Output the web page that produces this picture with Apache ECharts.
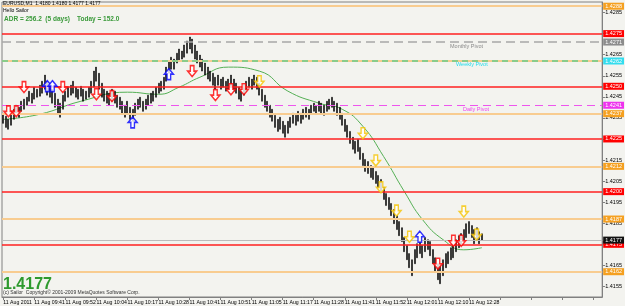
<!DOCTYPE html>
<html><head><meta charset="utf-8">
<script src="https://cdn.jsdelivr.net/npm/echarts@6/dist/echarts.min.js"></script>
<style>html,body{margin:0;padding:0;background:#F2F2EE}#c{width:625px;height:306px}</style>
</head><body><div id="c"></div>
<script>
const symbolName = 'EURUSD,M1';
const headerOHLC = [1.4180, 1.4180, 1.4177, 1.4177];
const adrValue = 256.2;
const adrDays = 5;
const todayRange = 152.0;
const lastPrice = 1.4177;

const timeLabels = ['11 Aug 2011','11 Aug 09:41','11 Aug 09:52','11 Aug 10:04','11 Aug 10:17','11 Aug 10:28','11 Aug 10:41','11 Aug 10:51','11 Aug 11:05','11 Aug 11:17','11 Aug 11:28','11 Aug 11:41','11 Aug 11:52','11 Aug 12:01','11 Aug 12:10','11 Aug 12:28'];

const yTicks = [1.4155,1.4165,1.4175,1.4185,1.4195,1.4205,1.4215,1.4225,1.4235,1.4245,1.4255,1.4265,1.4275,1.4285];

const barHigh = [
1.42372,1.42358,1.42343,1.42367,1.42391,1.42410,1.42400,1.42429,1.42439,1.42448,
1.42477,1.42467,1.42496,1.42486,1.42505,1.42524,1.42553,1.42524,1.42505,1.42486,
1.42467,1.42439,1.42420,1.42458,1.42477,1.42496,1.42505,1.42524,1.42496,1.42486,
1.42500,1.42486,1.42477,1.42496,1.42524,1.42572,1.42591,1.42562,1.42515,1.42486,
1.42477,1.42467,1.42486,1.42477,1.42458,1.42448,1.42429,1.42410,1.42429,1.42400,
1.42391,1.42420,1.42439,1.42448,1.42429,1.42439,1.42458,1.42467,1.42477,1.42496,
1.42515,1.42524,1.42543,1.42591,1.42619,1.42638,1.42629,1.42657,1.42677,1.42667,
1.42696,1.42715,1.42734,1.42724,1.42696,1.42667,1.42648,1.42629,1.42610,1.42591,
1.42572,1.42562,1.42543,1.42553,1.42534,1.42543,1.42524,1.42534,1.42553,1.42534,
1.42515,1.42496,1.42486,1.42505,1.42524,1.42543,1.42534,1.42553,1.42543,1.42515,
1.42486,1.42458,1.42429,1.42410,1.42391,1.42362,1.42343,1.42353,1.42334,1.42315,
1.42334,1.42353,1.42372,1.42362,1.42381,1.42372,1.42391,1.42400,1.42391,1.42410,
1.42420,1.42410,1.42429,1.42420,1.42410,1.42429,1.42439,1.42448,1.42429,1.42420,
1.42400,1.42372,1.42343,1.42315,1.42286,1.42258,1.42239,1.42248,1.42210,1.42182,
1.42153,1.42143,1.42124,1.42115,1.42096,1.42077,1.42058,1.42020,1.41991,1.41972,
1.41944,1.41915,1.41886,1.41858,1.41829,1.41782,1.41744,1.41706,1.41677,1.41725,
1.41753,1.41763,1.41744,1.41782,1.41772,1.41763,1.41725,1.41686,1.41658,1.41648,
1.41677,1.41706,1.41715,1.41734,1.41744,1.41772,1.41791,1.41801,1.41820,1.41848,
1.41858,1.41839,1.41820,1.41829,1.41810,1.41800];

const barLow = [
1.42324,1.42305,1.42296,1.42315,1.42343,1.42362,1.42353,1.42381,1.42391,1.42410,
1.42429,1.42420,1.42439,1.42448,1.42453,1.42467,1.42486,1.42458,1.42448,1.42420,
1.42400,1.42372,1.42353,1.42391,1.42429,1.42448,1.42458,1.42467,1.42448,1.42439,
1.42453,1.42429,1.42439,1.42448,1.42467,1.42496,1.42524,1.42486,1.42448,1.42429,
1.42420,1.42410,1.42429,1.42420,1.42400,1.42391,1.42372,1.42353,1.42372,1.42343,
1.42334,1.42362,1.42391,1.42400,1.42381,1.42391,1.42410,1.42420,1.42429,1.42448,
1.42467,1.42477,1.42486,1.42524,1.42562,1.42581,1.42581,1.42610,1.42619,1.42629,
1.42638,1.42657,1.42677,1.42657,1.42629,1.42610,1.42591,1.42572,1.42553,1.42534,
1.42524,1.42505,1.42486,1.42505,1.42486,1.42496,1.42477,1.42486,1.42496,1.42477,
1.42467,1.42439,1.42429,1.42458,1.42477,1.42496,1.42486,1.42505,1.42486,1.42458,
1.42429,1.42400,1.42381,1.42353,1.42334,1.42305,1.42286,1.42296,1.42277,1.42258,
1.42277,1.42305,1.42324,1.42315,1.42334,1.42324,1.42343,1.42353,1.42343,1.42372,
1.42381,1.42372,1.42381,1.42372,1.42362,1.42381,1.42391,1.42400,1.42381,1.42362,
1.42343,1.42315,1.42286,1.42258,1.42229,1.42201,1.42182,1.42191,1.42153,1.42124,
1.42096,1.42086,1.42067,1.42058,1.42039,1.42020,1.42001,1.41963,1.41934,1.41915,
1.41886,1.41848,1.41820,1.41791,1.41763,1.41715,1.41677,1.41639,1.41601,1.41658,
1.41686,1.41706,1.41686,1.41715,1.41725,1.41696,1.41658,1.41620,1.41582,1.41563,
1.41601,1.41639,1.41658,1.41677,1.41686,1.41715,1.41734,1.41744,1.41763,1.41782,
1.41801,1.41782,1.41753,1.41772,1.41753,1.41770];

const maIdx = [0,14,30,48,60,68,76,87,99,110,122,131,139,147,155,162,170,178,185];
const maVal = [1.42343,1.42367,1.42429,1.42472,1.42462,1.42496,1.42543,1.42591,1.42572,1.42477,1.42420,1.42391,1.42310,1.42167,1.42001,1.41868,1.41772,1.41724,1.41734];

const redArrowIdx = [2,5,8,23,36,42,73,82,88,93,168,174,177];
const redArrowVal = [1.42381,1.42381,1.42496,1.42496,1.42462,1.42453,1.42572,1.42458,1.42486,1.42486,1.41658,1.41767,1.41767];
const blueArrowIdx = [17,19,50,64,161];
const blueArrowVal = [1.42501,1.42501,1.42329,1.42558,1.41786];
const yellowArrowIdx = [99,139,144,146,152,157,178,183];
const yellowArrowVal = [1.42524,1.42277,1.42148,1.42020,1.41910,1.41786,1.41905,1.41796];

const redLevels = [1.4275,1.4250,1.4225,1.4200,1.4175];
const orangeLevels = [1.4288,1.4262,1.4237,1.4212,1.4187,1.4162];
const monthlyPivot = 1.4271;
const weeklyPivot = 1.4262;
const dailyPivot = 1.4241;

const N_CAT = 232;
const cats = Array.from({length: N_CAT}, (_, i) => i);
const candle = barHigh.map((h, i) => [barLow[i], h, barLow[i], h]);
const FF = '"Liberation Sans", Arial, sans-serif';

function boxLabel(bg, show) {
  return { show: show, position: 'end', distance: 1, formatter: p => Number(p.value).toFixed(4),
    backgroundColor: bg, color: '#fff', fontSize: 5.5, fontFamily: FF, padding: [1, 2, 0, 2] };
}
const markData = [];
orangeLevels.forEach(v => markData.push({ yAxis: v, lineStyle: { color: '#F8CC90', width: 2, type: 'solid', opacity: 1 }, label: boxLabel('#F5A020', v !== weeklyPivot) }));
redLevels.forEach(v => markData.push({ yAxis: v, lineStyle: { color: '#FF2020', width: 1.5, type: 'solid', opacity: 1 }, label: boxLabel('#FF0000', true) }));
markData.push({ yAxis: monthlyPivot, lineStyle: { color: '#A8A8A8', width: 1.5, type: [9, 5], opacity: 1 }, label: boxLabel('#8C8C8C', true) });
markData.push({ yAxis: weeklyPivot, lineStyle: { color: '#66CC88', width: 1.5, type: [6, 4], opacity: 1 }, label: boxLabel('#33DDEE', true) });
markData.push({ yAxis: dailyPivot, lineStyle: { color: '#EE55EE', width: 1.2, type: [8, 5], opacity: 1 }, label: boxLabel('#EE33EE', true) });
markData.push({ yAxis: lastPrice, lineStyle: { color: '#BBBBBB', width: 1, type: 'solid', opacity: 1 }, label: boxLabel('#111111', true) });

const downArrow = 'path://M3,0 L7,0 L7,5 L10,5 L5,10 L0,5 L3,5 Z';
const upArrow = 'path://M5,0 L10,5 L7,5 L7,10 L3,10 L3,5 L0,5 Z';
function arrows(idx, val, color, sym) {
  return { type: 'scatter', z: 6, symbol: sym, symbolSize: [9, 11],
    data: idx.map((x, k) => [x, val[k]]),
    itemStyle: { color: '#FFFFFF', borderColor: color, borderWidth: 1.5 }, silent: true };
}

const chart = echarts.init(document.getElementById('c'), null, { renderer: 'canvas' });
chart.setOption({
  animation: false,
  backgroundColor: '#F3F3EF',
  grid: { left: 2, right: 20, top: 2, bottom: 9, show: true, borderColor: '#808080', borderWidth: 1 },
  xAxis: { type: 'category', data: cats, boundaryGap: true,
    axisLine: { show: true, lineStyle: { color: '#808080' } },
    axisTick: { show: true, interval: 11, alignWithLabel: true, length: 3, lineStyle: { color: '#808080' } },
    axisLabel: { interval: 11, align: 'left', fontSize: 5.2, fontFamily: FF, color: '#000', margin: 3,
      formatter: (v, i) => timeLabels[i / 12] || '' },
    splitLine: { show: false } },
  yAxis: { type: 'value', position: 'right', min: 1.4150, max: 1.4290,
    axisLine: { show: true, lineStyle: { color: '#808080' } },
    axisTick: { show: true, length: 3, customValues: yTicks, lineStyle: { color: '#808080' } },
    axisLabel: { customValues: yTicks, formatter: v => v.toFixed(4), fontSize: 5.5, fontFamily: FF, color: '#000', margin: 3 },
    splitLine: { show: false } },
  series: [
    { type: 'line', z: 2, data: maIdx.map((x, k) => [x, maVal[k]]), smooth: 0.5, symbol: 'none',
      lineStyle: { color: '#55B055', width: 1 }, silent: true,
      markLine: { symbol: 'none', silent: true, precision: 5, data: markData } },
    { type: 'candlestick', z: 4, data: candle, barWidth: 1.5, silent: true,
      itemStyle: { color: '#000', color0: '#000', borderColor: '#000', borderColor0: '#000', borderWidth: 0.5 } },
    arrows(redArrowIdx, redArrowVal, '#FF0000', downArrow),
    arrows(blueArrowIdx, blueArrowVal, '#0000FF', upArrow),
    arrows(yellowArrowIdx, yellowArrowVal, '#F5C400', downArrow)
  ],
  graphic: [
    { type: 'text', left: 3, top: 1, z: 10, style: { text: symbolName + '  ' + headerOHLC.map(v => v.toFixed(4)).join(' '), font: '5px ' + FF, fill: '#000' } },
    { type: 'text', left: 3, top: 8, z: 10, style: { text: 'Hello Sailor', font: '5px ' + FF, fill: '#000' } },
    { type: 'text', left: 4, top: 16, z: 10, style: { text: 'ADR = ' + adrValue.toFixed(1) + '  (' + adrDays + ' days)', font: 'bold 6.5px ' + FF, fill: '#3A9A3A' } },
    { type: 'text', left: 77, top: 16, z: 10, style: { text: 'Today = ' + todayRange.toFixed(1), font: 'bold 6.5px ' + FF, fill: '#3A9A3A' } },
    { type: 'text', left: 3, top: 277, z: 10, style: { text: lastPrice.toFixed(4), font: 'bold 16px ' + FF, fill: '#2E9A2E' } },
    { type: 'text', left: 3, top: 290, z: 11, style: { text: '(c) Sailor  Copyright\u00a9 2001-2009 MetaQuotes Software Corp.', font: '5px ' + FF, fill: '#333' } },
    { type: 'text', left: 450, top: 43, z: 10, style: { text: 'Monthly Pivot', font: '5.5px ' + FF, fill: '#8A8A8A' } },
    { type: 'text', left: 456, top: 61, z: 10, style: { text: 'Weekly Pivot', font: '5.5px ' + FF, fill: '#22DDEE' } },
    { type: 'text', left: 463, top: 106, z: 10, style: { text: 'Daily Pivot', font: '5.5px ' + FF, fill: '#EE44EE' } }
  ]
});
</script></body></html>
